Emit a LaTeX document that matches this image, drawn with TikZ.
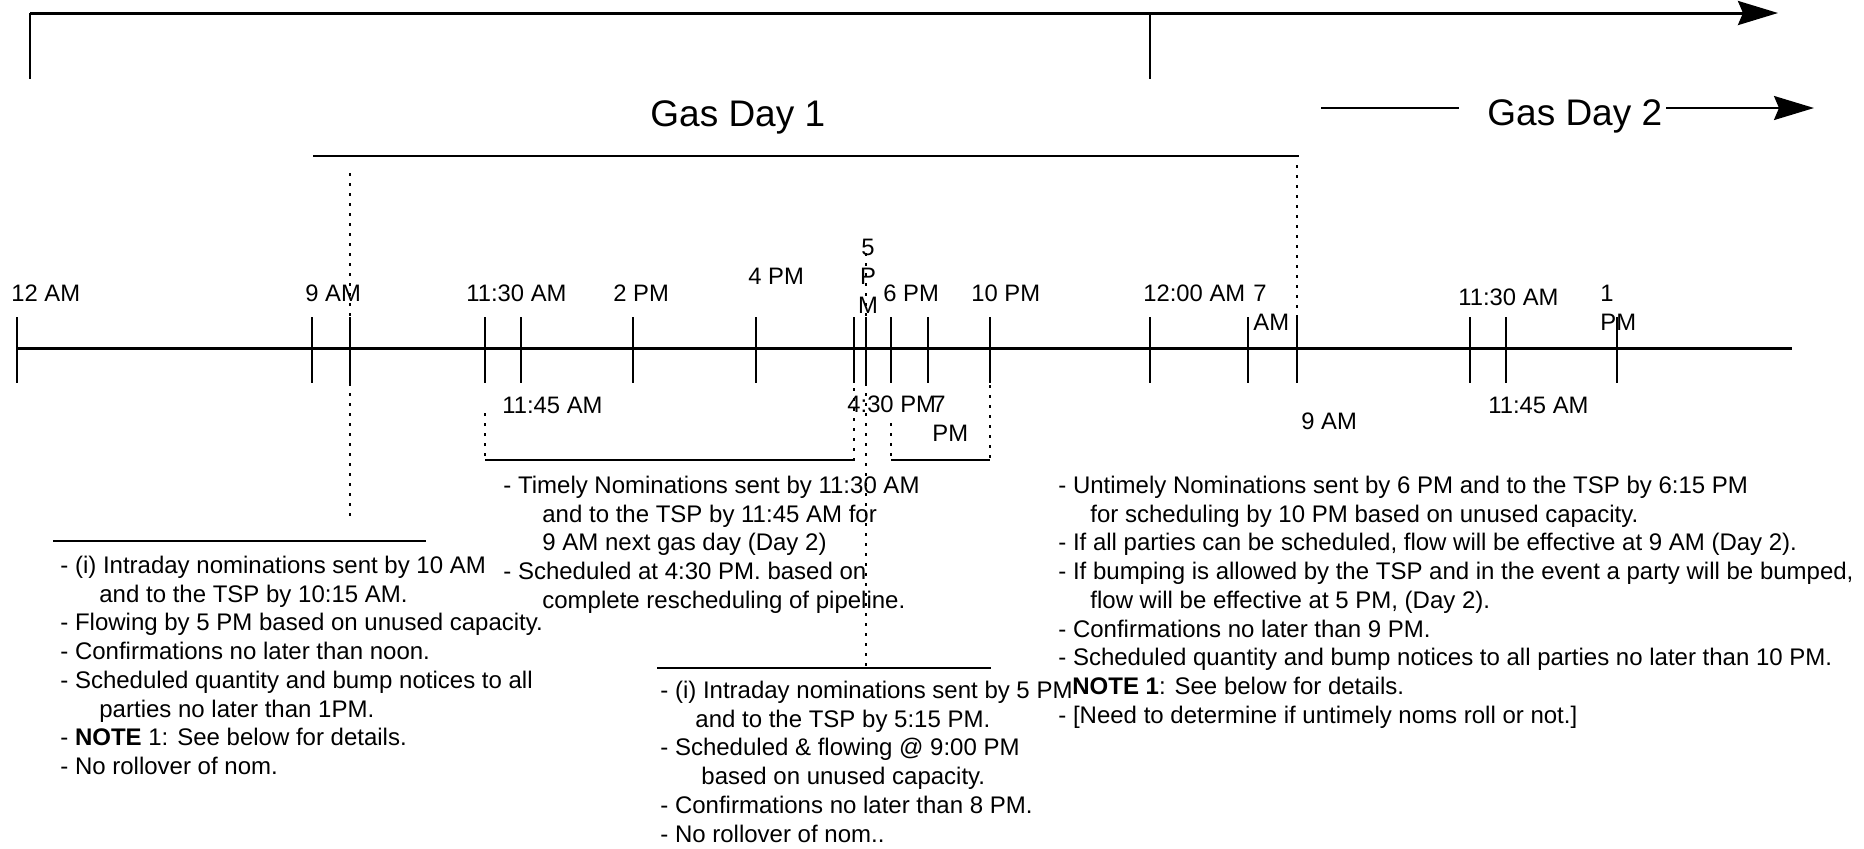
\documentclass[tikz,border=0pt]{standalone}
\usepackage{fontspec}
\setmainfont{Liberation Sans}
\usetikzlibrary{arrows.meta, positioning}

\begin{document}
\begin{tikzpicture}[x=0.5pt, y=-0.5pt]
        % Define styles
        \tikzstyle{lbl} = [inner sep=0pt, anchor=base west, font=\fontsize{11.9}{14.35}\selectfont]
        \tikzstyle{stack} = [inner sep=0pt, anchor=north west, align=left, font=\fontsize{11.9}{14.35}\selectfont]
        \tikzstyle{notes} = [stack, font=\fontsize{12}{14.35}\selectfont]
        \tikzstyle{daylbl} = [inner sep=0pt, anchor=base west, font=\fontsize{18.5}{22}\selectfont]
        \tikzstyle{axis} = [line width=1.5pt]
        \tikzstyle{tick} = [line width=1pt]
        \tikzstyle{bar} = [line width=1.4pt]
        \tikzstyle{guide} = [line width=1.3pt, dash pattern=on 1.6pt off 3.4pt]
        \tikzstyle{arrow} = [-{Stealth[length=20pt, width=12pt, inset=2.5pt]}]

        \useasboundingbox (0,0) rectangle (1864,848);

        % Gas day brackets
        \draw[axis, arrow] (30,13) -- (1778,13);
        \draw[line width=0.6pt] (30,13) -- (30,79);
        \draw[line width=0.6pt] (1150,13) -- (1150,79);
        \node[daylbl] (day1) at (650,126) {Gas Day 1};
        \node[daylbl] (day2) at (1487,125) {Gas Day 2};
        \draw[line width=1.1pt] (1321,108) -- (1459,108);
        \draw[line width=1.1pt, arrow] (1666,108) -- (1814,108);
        \draw[bar] (313,156) -- (1299,156);

        % Time line and ticks
        \draw[axis] (18,348) -- (1792,348);
        \foreach \tx in {17,312,350,485,521,633,756,854,866,891,928,990,1150,1248,1297,1470,1506,1617}
            \draw[tick] (\tx,317) -- (\tx,383);

        % Times above
        \node[lbl] (t12am) at (11,301.5) {12 AM};
        \node[lbl] (t9am) at (305,301.5) {9 AM};
        \node[lbl] (t1130) at (466,301.5) {11:30 AM};
        \node[lbl] (t2pm) at (613,301.5) {2 PM};
        \node[lbl] (t4pm) at (748,284.5) {4 PM};
        \node[stack, align=center, anchor=north] (t5pm) at (868,235.4) {\strut 5\\P\\M};
        \node[lbl] (t6pm) at (883,301.5) {6 PM};
        \node[lbl] (t10pm) at (971,301.5) {10 PM};
        \node[lbl] (t12b) at (1143,301.5) {12:00 AM};
        \node[stack] (t7am) at (1253,281.4) {\strut 7\\AM};
        \node[lbl] (t1130b) at (1458,305.5) {11:30 AM};
        \node[stack] (t1pm) at (1600,281.4) {\strut 1\\PM};

        % Times below
        \node[lbl] (t1145) at (502,413.5) {11:45 AM};
        \node[lbl] (t430) at (847,412.5) {4:30 PM};
        \node[stack] (t7pm) at (932,392.4) {\strut 7\\PM};
        \node[lbl] (t9amb) at (1301,429.5) {9 AM};
        \node[lbl] (t1145b) at (1488,413.5) {11:45 AM};

        % Dotted guides
        \draw[guide] (350,173) -- (350,522);
        \draw[guide] (1297,165) -- (1297,348);
        \draw[guide] (485,413) -- (485,460);
        \draw[guide] (854,388) -- (854,460);
        \draw[guide] (866,253) -- (866,668);
        \draw[guide] (891,423) -- (891,460);
        \draw[guide] (990,385) -- (990,460);

        % Bars over the notes
        \draw[bar] (53,541) -- (426,541);
        \draw[bar] (485,460) -- (855,460);
        \draw[bar] (891,460) -- (990,460);
        \draw[bar] (657,668) -- (991,668);

        % Notes
        \node[notes] (intraday1) at (60,553) {\strut - (i) Intraday nominations sent by 10 AM\\
            \hspace*{19.5pt}and to the TSP by 10:15 AM.\\
            - Flowing by 5 PM based on unused capacity.\\
            - Confirmations no later than noon.\\
            - Scheduled quantity and bump notices to all\\
            \hspace*{19.5pt}parties no later than 1PM.\\
            - \textbf{NOTE} 1: See below for details.\\
            - No rollover of nom.};
        \node[notes] (timely) at (503,473) {\strut - Timely Nominations sent by 11:30 AM\\
            \hspace*{19.5pt}and to the TSP by 11:45 AM for\\
            \hspace*{19.5pt}9 AM next gas day (Day 2)\\
            - Scheduled at 4:30 PM. based on\\
            \hspace*{19.5pt}complete rescheduling of pipeline.};
        \node[notes] (intraday2) at (660,678) {\strut - (i) Intraday nominations sent by 5 PM\\
            \hspace*{17.5pt}and to the TSP by 5:15 PM.\\
            - Scheduled \& flowing @ 9:00 PM\\
            \hspace*{20.5pt}based on unused capacity.\\
            - Confirmations no later than 8 PM.\\
            - No rollover of nom..};
        \node[notes] (untimely) at (1058,473) {\strut - Untimely Nominations sent by 6 PM and to the TSP by 6:15 PM\\
            \hspace*{16pt}for scheduling by 10 PM based on unused capacity.\\
            - If all parties can be scheduled, flow will be effective at 9 AM (Day 2).\\
            - If bumping is allowed by the TSP and in the event a party will be bumped,\\
            \hspace*{16pt}flow will be effective at 5 PM, (Day 2).\\
            - Confirmations no later than 9 PM.\\
            - Scheduled quantity and bump notices to all parties no later than 10 PM.\\
            \hspace*{7pt}\textbf{NOTE 1}: See below for details.\\
            - [Need to determine if untimely noms roll or not.]};

\end{tikzpicture}
\end{document}
